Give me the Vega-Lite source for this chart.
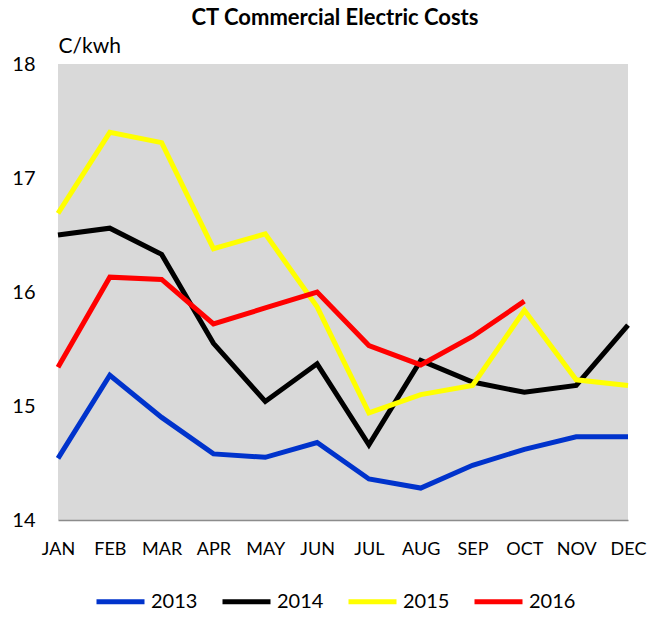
{
  "$schema": "https://vega.github.io/schema/vega-lite/v6.json",
  "autosize": "none",
  "width": 570,
  "height": 456,
  "padding": {"left": 58, "top": 64, "right": 31, "bottom": 97},
  "background": "white",
  "title": {
    "text": "CT Commercial Electric Costs",
    "font": "Lato",
    "fontSize": 22,
    "fontWeight": "bold",
    "color": "black",
    "anchor": "middle",
    "frame": "group",
    "offset": 5,
    "dx": -8
  },
  "config": {
    "view": {"fill": "#D9D9D9", "stroke": null},
    "font": "Lato"
  },
  "data": {
    "values": [
      {"month": "JAN", "year": "2013", "value": 14.54},
      {"month": "FEB", "year": "2013", "value": 15.27},
      {"month": "MAR", "year": "2013", "value": 14.90},
      {"month": "APR", "year": "2013", "value": 14.58},
      {"month": "MAY", "year": "2013", "value": 14.55},
      {"month": "JUN", "year": "2013", "value": 14.68},
      {"month": "JUL", "year": "2013", "value": 14.36},
      {"month": "AUG", "year": "2013", "value": 14.28},
      {"month": "SEP", "year": "2013", "value": 14.48},
      {"month": "OCT", "year": "2013", "value": 14.62},
      {"month": "NOV", "year": "2013", "value": 14.73},
      {"month": "DEC", "year": "2013", "value": 14.73},
      {"month": "JAN", "year": "2014", "value": 16.50},
      {"month": "FEB", "year": "2014", "value": 16.56},
      {"month": "MAR", "year": "2014", "value": 16.33},
      {"month": "APR", "year": "2014", "value": 15.55},
      {"month": "MAY", "year": "2014", "value": 15.04},
      {"month": "JUN", "year": "2014", "value": 15.37},
      {"month": "JUL", "year": "2014", "value": 14.66},
      {"month": "AUG", "year": "2014", "value": 15.40},
      {"month": "SEP", "year": "2014", "value": 15.21},
      {"month": "OCT", "year": "2014", "value": 15.12},
      {"month": "NOV", "year": "2014", "value": 15.18},
      {"month": "DEC", "year": "2014", "value": 15.71},
      {"month": "JAN", "year": "2015", "value": 16.69},
      {"month": "FEB", "year": "2015", "value": 17.40},
      {"month": "MAR", "year": "2015", "value": 17.31},
      {"month": "APR", "year": "2015", "value": 16.38},
      {"month": "MAY", "year": "2015", "value": 16.51},
      {"month": "JUN", "year": "2015", "value": 15.87},
      {"month": "JUL", "year": "2015", "value": 14.94},
      {"month": "AUG", "year": "2015", "value": 15.10},
      {"month": "SEP", "year": "2015", "value": 15.18},
      {"month": "OCT", "year": "2015", "value": 15.84},
      {"month": "NOV", "year": "2015", "value": 15.23},
      {"month": "DEC", "year": "2015", "value": 15.18},
      {"month": "JAN", "year": "2016", "value": 15.34},
      {"month": "FEB", "year": "2016", "value": 16.13},
      {"month": "MAR", "year": "2016", "value": 16.11},
      {"month": "APR", "year": "2016", "value": 15.72},
      {"month": "MAY", "year": "2016", "value": 15.86},
      {"month": "JUN", "year": "2016", "value": 16.00},
      {"month": "JUL", "year": "2016", "value": 15.53},
      {"month": "AUG", "year": "2016", "value": 15.36},
      {"month": "SEP", "year": "2016", "value": 15.61},
      {"month": "OCT", "year": "2016", "value": 15.92}
    ]
  },
  "mark": {"type": "line", "strokeWidth": 5, "strokeJoin": "miter"},
  "encoding": {
    "x": {
      "field": "month",
      "type": "ordinal",
      "sort": ["JAN","FEB","MAR","APR","MAY","JUN","JUL","AUG","SEP","OCT","NOV","DEC"],
      "scale": {"type": "point", "padding": 0},
      "axis": {
        "title": null,
        "labelAngle": 0,
        "labelFontSize": 18,
        "labelColor": "black",
        "labelPadding": 20,
        "ticks": false,
        "tickSize": 0,
        "grid": false,
        "domain": true,
        "domainColor": "#8c8c8c",
        "domainWidth": 1.5
      }
    },
    "y": {
      "field": "value",
      "type": "quantitative",
      "scale": {"domain": [14, 18], "nice": false, "zero": false},
      "axis": {
        "values": [14, 15, 16, 17, 18],
        "title": "C/kwh",
        "titleAngle": 0,
        "titleX": 0,
        "titleY": -12,
        "titleAlign": "left",
        "titleBaseline": "alphabetic",
        "titleFontSize": 21,
        "titleFontWeight": "normal",
        "titleColor": "black",
        "labelFontSize": 20,
        "labelColor": "black",
        "labelPadding": 23,
        "ticks": false,
        "tickSize": 0,
        "grid": false,
        "domain": false
      }
    },
    "color": {
      "field": "year",
      "type": "nominal",
      "scale": {"domain": ["2013","2014","2015","2016"], "range": ["#0033CC","#000000","#FFFF00","#FF0000"]},
      "legend": {
        "title": null,
        "orient": "none",
        "direction": "horizontal",
        "columns": 4,
        "legendX": 36,
        "legendY": 511,
        "symbolType": "stroke",
        "symbolStrokeWidth": 5,
        "symbolSize": 2304,
        "labelFontSize": 20,
        "labelColor": "black",
        "labelOffset": 4,
        "columnPadding": 14
      }
    }
  }
}
